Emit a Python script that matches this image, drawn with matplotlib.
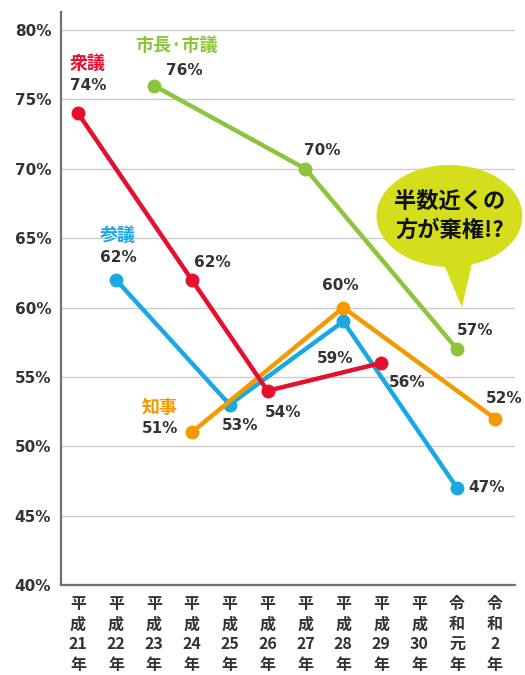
import matplotlib
matplotlib.use("Agg")
import matplotlib.pyplot as plt
from matplotlib.patches import Ellipse, Polygon
import numpy as np

plt.rcParams['font.family'] = ['Noto Sans CJK JP', 'DejaVu Sans']

categories = ["平成21年", "平成22年", "平成23年", "平成24年", "平成25年", "平成26年",
              "平成27年", "平成28年", "平成29年", "平成30年", "令和元年", "令和2年"]
tick_labels = ["平\n成\n21\n年", "平\n成\n22\n年", "平\n成\n23\n年", "平\n成\n24\n年",
               "平\n成\n25\n年", "平\n成\n26\n年", "平\n成\n27\n年", "平\n成\n28\n年",
               "平\n成\n29\n年", "平\n成\n30\n年", "令\n和\n元\n年", "令\n和\n2\n年"]

shugi_x = ["平成21年", "平成24年", "平成26年", "平成29年"]
shugi_y = [74, 62, 54, 56]
shicho_x = ["平成23年", "平成27年", "令和元年"]
shicho_y = [76, 70, 57]
sangi_x = ["平成22年", "平成25年", "平成28年", "令和元年"]
sangi_y = [62, 53, 59, 47]
chiji_x = ["平成24年", "平成28年", "令和2年"]
chiji_y = [51, 60, 52]

RED = "#e60f2d"
GREEN = "#8cc43c"
BLUE = "#1aa8e4"
ORANGE = "#f39a00"
TXT = "#333333"
NUMFONT = ['DejaVu Sans', 'Noto Sans CJK JP']

fig = plt.figure(figsize=(5.25, 6.75), dpi=100)
ax = fig.add_axes([61/525, 90/675, (515-61)/525, (585-12)/675])

idx = {c: i for i, c in enumerate(categories)}

def draw(xs, ys, color, offsets, name, name_off):
    xi = [idx[c] for c in xs]
    ax.plot(xi, ys, color=color, lw=3.2, marker='o', ms=9, solid_capstyle='round', zorder=3)
    for x, y, off in zip(xi, ys, offsets):
        ax.annotate(f"{y}%", (x, y), xytext=off, textcoords='offset pixels',
                    ha='center', va='center', fontsize=11, fontweight='bold', color=TXT,
                    family=NUMFONT, zorder=5, annotation_clip=False)
    ax.annotate(name, (xi[0], ys[0]), xytext=name_off, textcoords='offset pixels',
                ha='center', va='center', fontsize=13, fontweight='bold', color=color, zorder=5)

draw(sangi_x, sangi_y, BLUE, [(2, 22), (10, -21), (-8, -37), (30, 0)], "参議", (2, 44))
draw(chiji_x, chiji_y, ORANGE, [(-32, 4), (-3, 22), (9, 20)], "知事", (-32, 25))
draw(shugi_x, shugi_y, RED, [(10, 28), (21, 17), (16, -22), (26, -19)], "衆議", (10, 50))
draw(shicho_x, shicho_y, GREEN, [(30, 15), (17, 18), (18, 19)], "市長·市議", (23, 40))

ax.set_xlim(-0.45, 11.53)
ax.set_ylim(40, 81.3)
ax.set_yticks(np.arange(40, 81, 5))
ax.set_yticklabels([f"{v}%" for v in range(40, 81, 5)], fontsize=11, fontweight='bold',
                   color=TXT, family=NUMFONT)
ax.set_xticks(range(len(categories)))
ax.set_xticklabels(tick_labels, fontsize=11.5, fontweight='bold', color=TXT, linespacing=1.32, va='top')
ax.tick_params(axis='both', length=0)
ax.tick_params(axis='x', pad=8)
ax.tick_params(axis='y', pad=7)
ax.grid(axis='y', color='#cccccc', lw=1)
ax.set_axisbelow(True)
for s in ['top', 'right']:
    ax.spines[s].set_visible(False)
for s in ['left', 'bottom']:
    ax.spines[s].set_color('#707070')
    ax.spines[s].set_linewidth(1.6)

# speech bubble
BUB = "#d5de1c"
ax.add_patch(Ellipse((9.8, 66.6), 3.85, 7.35, facecolor=BUB, edgecolor='none', zorder=6, clip_on=False))
ax.add_patch(Polygon([(9.55, 63.8), (10.47, 64.1), (10.13, 60.0)], closed=True,
                     facecolor=BUB, edgecolor='none', zorder=6, clip_on=False))
ax.text(9.8, 66.6, "半数近くの\n方が棄権!?", ha='center', va='center', fontsize=16,
        fontweight='bold', color='#111111', linespacing=1.3, zorder=7)

fig.savefig("out.png", dpi=100)
